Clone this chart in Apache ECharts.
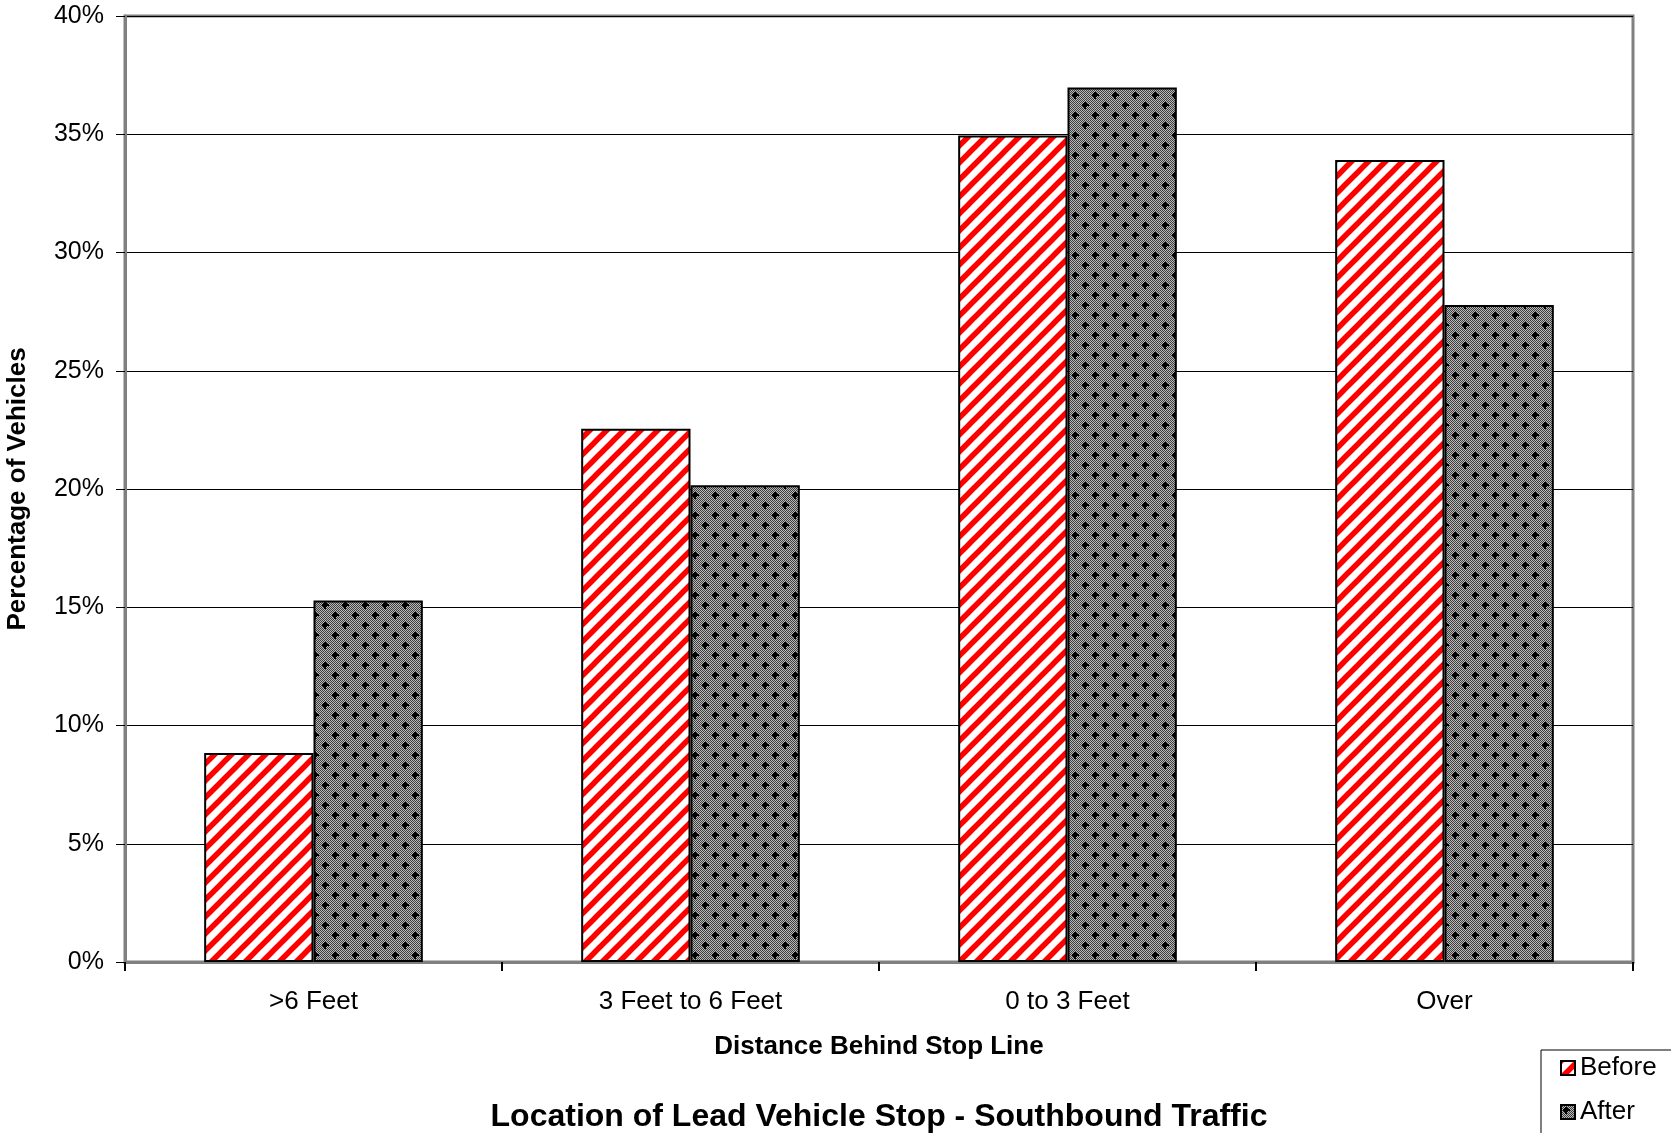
<!DOCTYPE html>
<html>
<head>
<meta charset="utf-8">
<script src="https://cdn.jsdelivr.net/npm/echarts@6/dist/echarts.min.js"></script>
<style>
html,body{margin:0;padding:0;background:#fff;}
#chart{width:1671px;height:1133px;}
</style>
</head>
<body>
<div id="chart"></div>
<script>
const categories = ['>6 Feet', '3 Feet to 6 Feet', '0 to 3 Feet', 'Over'];
const beforeValues = [0.0884, 0.2255, 0.3495, 0.3391];
const afterValues = [0.1529, 0.2016, 0.3698, 0.2778];
const seriesNames = ['Before', 'After'];
const chartTitle = 'Location of Lead Vehicle Stop - Southbound Traffic';
const xAxisTitle = 'Distance Behind Stop Line';
const yAxisTitle = 'Percentage of Vehicles';

function stripePattern() {
  const s = 17;
  const c = document.createElement('canvas');
  c.width = s; c.height = s;
  const g = c.getContext('2d');
  g.fillStyle = '#fff';
  g.fillRect(0, 0, s, s);
  g.strokeStyle = '#ff0000';
  g.lineWidth = 5.5;
  for (let k = -1; k <= 1; k++) {
    g.beginPath();
    g.moveTo(k * s - 2, s + 2);
    g.lineTo(k * s + s + 2, -2);
    g.stroke();
  }
  return c;
}
function dotPattern() {
  const s = 20;
  const c = document.createElement('canvas');
  c.width = s; c.height = s;
  const g = c.getContext('2d');
  for (let y = 0; y < s; y++) {
    for (let x = 0; x < s; x++) {
      g.fillStyle = ((x + y) % 2 === 0) ? '#3e3e3e' : '#b8b8b8';
      g.fillRect(x, y, 1, 1);
    }
  }
  g.fillStyle = '#000';
  [[5, 5], [15, 15]].forEach(([cx, cy]) => {
    g.fillRect(cx - 3, cy - 1, 7, 2);
    g.fillRect(cx - 1, cy - 3, 2, 7);
    g.fillRect(cx - 2, cy - 2, 4, 4);
  });
  return c;
}

const chart = echarts.init(document.getElementById('chart'), null, {renderer: 'canvas'});
const font = '"Liberation Sans", Arial, sans-serif';
chart.setOption({
  animation: false,
  backgroundColor: '#fff',
  textStyle: {fontFamily: font},
  title: {
    text: chartTitle,
    left: 879,
    textAlign: 'center',
    top: 1101,
    padding: 0,
    textStyle: {fontSize: 32, fontWeight: 'bold', color: '#000', fontFamily: font}
  },
  legend: {
    type: 'plain',
    orient: 'vertical',
    left: 1541,
    top: 1050,
    height: 140,
    backgroundColor: '#fff',
    borderColor: '#000',
    borderWidth: 1,
    borderRadius: 0,
    padding: [5, 60, 10, 19],
    itemGap: 18,
    itemWidth: 14,
    itemHeight: 14,
    icon: 'rect',
    textStyle: {fontSize: 26, color: '#000', fontFamily: font},
    data: seriesNames
  },
  grid: {
    left: 125, right: 38, top: 16, bottom: 171,
    outerBoundsMode: 'none',
    containLabel: false,
    show: true, borderColor: '#808080', borderWidth: 3, backgroundColor: '#fff'
  },
  xAxis: {
    type: 'category',
    data: categories,
    name: xAxisTitle,
    nameLocation: 'middle',
    nameGap: 72,
    nameTextStyle: {fontSize: 26, fontWeight: 'bold', color: '#000', fontFamily: font},
    axisLine: {show: true, lineStyle: {color: '#808080', width: 3}},
    axisTick: {show: true, length: 9, lineStyle: {color: '#000', width: 2}},
    axisLabel: {fontSize: 26, color: '#000', margin: 27, fontFamily: font},
    splitLine: {show: false}
  },
  yAxis: {
    type: 'value',
    min: 0, max: 0.4, interval: 0.05,
    name: yAxisTitle,
    nameLocation: 'middle',
    nameGap: 94,
    nameRotate: 90,
    nameTextStyle: {fontSize: 26, fontWeight: 'bold', color: '#000', fontFamily: font},
    axisLine: {show: true, lineStyle: {color: '#808080', width: 3}},
    axisTick: {show: true, length: 9, lineStyle: {color: '#000', width: 1}},
    axisLabel: {fontSize: 25, color: '#000', margin: 21, fontFamily: font,
      formatter: v => Math.round(v * 100) + '%'},
    splitLine: {show: true, lineStyle: {color: '#000', width: 1}}
  },
  series: [
    {
      name: seriesNames[0], type: 'bar', data: beforeValues,
      barGap: '0%', barCategoryGap: '42%',
      itemStyle: {color: {image: stripePattern(), repeat: 'repeat'}, borderColor: '#000', borderWidth: 2}
    },
    {
      name: seriesNames[1], type: 'bar', data: afterValues,
      barGap: '0%', barCategoryGap: '42%',
      itemStyle: {color: {image: dotPattern(), repeat: 'repeat'}, borderColor: '#000', borderWidth: 2}
    }
  ]
});
</script>
</body>
</html>
